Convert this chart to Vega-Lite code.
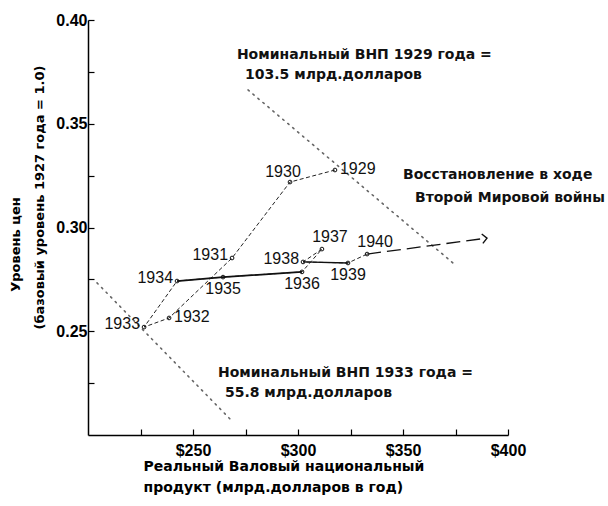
{
  "$schema": "https://vega.github.io/schema/vega-lite/v6.json",
  "width": 420,
  "height": 415,
  "autosize": {"type": "none"},
  "padding": {"left": 88, "top": 20, "right": 100, "bottom": 71},
  "background": "white",
  "config": {"view": {"stroke": null}, "axis": {"grid": false}},
  "title": {"text": "Уровень цен", "orient": "left", "anchor": "middle", "frame": "group", "font": "DejaVu Sans", "fontWeight": "bold", "fontSize": 13, "color": "black", "offset": 10, "dx": -17},
  "datasets": {
    "years": [
      {"year": 1929, "gnp": 317.6, "price": 0.3277},
      {"year": 1930, "gnp": 296.2, "price": 0.3219},
      {"year": 1931, "gnp": 268.6, "price": 0.2853},
      {"year": 1932, "gnp": 238.6, "price": 0.2564},
      {"year": 1933, "gnp": 226.7, "price": 0.2520},
      {"year": 1934, "gnp": 242.4, "price": 0.2742},
      {"year": 1935, "gnp": 264.3, "price": 0.2761},
      {"year": 1936, "gnp": 301.9, "price": 0.2786},
      {"year": 1937, "gnp": 311.4, "price": 0.2896},
      {"year": 1938, "gnp": 302.4, "price": 0.2834},
      {"year": 1939, "gnp": 323.8, "price": 0.2829},
      {"year": 1940, "gnp": 332.9, "price": 0.2872}
    ],
    "arrow": [
      {"part": "start", "gnp": 332.9, "price": 0.2872},
      {"part": "end", "gnp": 390.0, "price": 0.2949}
    ],
    "nominal": [
      {"curve": "1929", "gnp": 276.2, "price": 0.3663},
      {"curve": "1929", "gnp": 373.8, "price": 0.2829},
      {"curve": "1933", "gnp": 204.3, "price": 0.2733},
      {"curve": "1933", "gnp": 269.0, "price": 0.2063}
    ],
    "notes": [
      {"text": "Номинальный ВНП 1929 года =", "gnp": 270.9, "price": 0.3831},
      {"text": "103.5 млрд.долларов", "gnp": 274.8, "price": 0.3735},
      {"text": "Восстановление в ходе", "gnp": 350.0, "price": 0.3253},
      {"text": "Второй Мировой войны", "gnp": 355.7, "price": 0.3142},
      {"text": "Номинальный ВНП 1933 года =", "gnp": 261.9, "price": 0.2299},
      {"text": "55.8 млрд.долларов", "gnp": 265.2, "price": 0.2202}
    ]
  },
  "encoding": {
    "x": {
      "field": "gnp", "type": "quantitative",
      "scale": {"domain": [200, 400], "nice": false, "zero": false},
      "axis": {
        "values": [225, 250, 275, 300, 325, 350, 375, 400],
        "labelExpr": "datum.value % 50 == 0 ? '$' + datum.value : ''",
        "domainColor": "black", "domainWidth": 1.5,
        "tickColor": "black", "tickWidth": 1.2, "tickSize": -6,
        "labelPadding": 13, "labelFont": "Liberation Sans", "labelFontSize": 16, "labelFontWeight": "bold", "labelColor": "black", "labelFlush": false,
        "title": ["Реальный Валовый национальный", "продукт (млрд.долларов в год)"],
        "titleFont": "DejaVu Sans", "titleFontWeight": "bold", "titleFontSize": 14, "titleColor": "black",
        "titleAnchor": "start", "titleAlign": "left", "titleBaseline": "top", "titleX": 55, "titleY": 24, "titleLineHeight": 21
      }
    },
    "y": {
      "field": "price", "type": "quantitative",
      "scale": {"domain": [0.2, 0.4], "nice": false, "zero": false},
      "axis": {
        "values": [0.225, 0.25, 0.275, 0.3, 0.325, 0.35, 0.375, 0.4],
        "labelExpr": "round(datum.value*1000) % 50 == 0 ? format(datum.value, '.2f') : ''",
        "domainColor": "black", "domainWidth": 1.5,
        "tickColor": "black", "tickWidth": 1.2, "tickSize": -6,
        "labelPadding": 7, "labelFont": "Liberation Sans", "labelFontSize": 16, "labelFontWeight": "bold", "labelColor": "black",
        "title": "(базовый уровень 1927 года = 1.0)",
        "titleFont": "DejaVu Sans", "titleFontWeight": "bold", "titleFontSize": 13, "titleColor": "black",
        "titleAngle": -90, "titleAlign": "center", "titleBaseline": "middle", "titleX": -49, "titleY": 177
      }
    }
  },
  "layer": [
    {
      "data": {"name": "nominal"},
      "mark": {"type": "line", "color": "#666666", "strokeWidth": 1.6, "strokeDash": [1.5, 5], "strokeCap": "round"},
      "encoding": {"detail": {"field": "curve"}}
    },
    {
      "data": {"name": "years"},
      "mark": {"type": "line", "color": "#222222", "strokeWidth": 1, "strokeDash": [4, 2.5]},
      "encoding": {"order": {"field": "year", "type": "quantitative"}}
    },
    {
      "data": {"name": "years"},
      "transform": [{"filter": "datum.year >= 1934 && datum.year <= 1936"}],
      "mark": {"type": "line", "color": "#111111", "strokeWidth": 1.7},
      "encoding": {"order": {"field": "year", "type": "quantitative"}}
    },
    {
      "data": {"name": "years"},
      "transform": [{"filter": "datum.year >= 1938 && datum.year <= 1939"}],
      "mark": {"type": "line", "color": "#111111", "strokeWidth": 1.3},
      "encoding": {"order": {"field": "year", "type": "quantitative"}}
    },
    {
      "data": {"name": "arrow"},
      "mark": {"type": "line", "color": "#111111", "strokeWidth": 1.3, "strokeDash": [14, 6]},
      "encoding": {}
    },
    {
      "data": {"name": "arrow"},
      "transform": [{"filter": "datum.part == 'end'"}],
      "mark": {"type": "point", "shape": "M -1 -1 L 0 0 L -1 1", "filled": false, "stroke": "#111111", "strokeWidth": 1.4, "size": 90, "angle": -7, "opacity": 1},
      "encoding": {}
    },
    {
      "data": {"name": "years"},
      "mark": {"type": "point", "shape": "circle", "filled": false, "stroke": "#111111", "strokeWidth": 1, "size": 14, "opacity": 1},
      "encoding": {}
    },
    {
      "data": {"name": "years"},
      "transform": [{"filter": {"field": "year", "oneOf": [1931, 1933, 1934, 1938]}}],
      "mark": {"type": "text", "align": "right", "baseline": "middle", "dx": -4, "dy": -3, "font": "Liberation Sans", "fontSize": 16, "color": "#111111"},
      "encoding": {"text": {"field": "year", "type": "nominal"}}
    },
    {
      "data": {"name": "years"},
      "transform": [{"filter": {"field": "year", "oneOf": [1929, 1932]}}],
      "mark": {"type": "text", "align": "left", "baseline": "middle", "dx": 5, "dy": -1, "font": "Liberation Sans", "fontSize": 16, "color": "#111111"},
      "encoding": {"text": {"field": "year", "type": "nominal"}}
    },
    {
      "data": {"name": "years"},
      "transform": [{"filter": {"field": "year", "oneOf": [1935, 1936, 1939]}}],
      "mark": {"type": "text", "align": "center", "baseline": "middle", "dx": 0, "dy": 12, "font": "Liberation Sans", "fontSize": 16, "color": "#111111"},
      "encoding": {"text": {"field": "year", "type": "nominal"}}
    },
    {
      "data": {"name": "years"},
      "transform": [{"filter": {"field": "year", "oneOf": [1937, 1940]}}],
      "mark": {"type": "text", "align": "center", "baseline": "middle", "dx": 8, "dy": -12, "font": "Liberation Sans", "fontSize": 16, "color": "#111111"},
      "encoding": {"text": {"field": "year", "type": "nominal"}}
    },
    {
      "data": {"name": "years"},
      "transform": [{"filter": {"field": "year", "oneOf": [1930]}}],
      "mark": {"type": "text", "align": "center", "baseline": "middle", "dx": -7, "dy": -10, "font": "Liberation Sans", "fontSize": 16, "color": "#111111"},
      "encoding": {"text": {"field": "year", "type": "nominal"}}
    },
    {
      "data": {"name": "notes"},
      "mark": {"type": "text", "align": "left", "baseline": "middle", "font": "DejaVu Sans", "fontWeight": "bold", "fontSize": 14, "color": "#111111"},
      "encoding": {"text": {"field": "text", "type": "nominal"}}
    }
  ]
}
